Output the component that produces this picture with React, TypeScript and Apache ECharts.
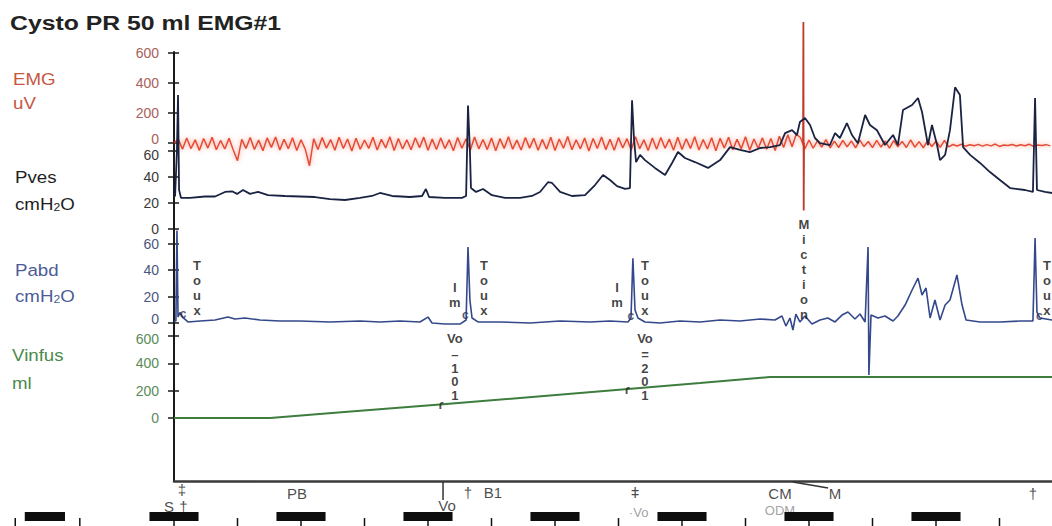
import React, { useEffect, useRef } from "react";
import * as echarts from "echarts";

// ---------- data (time in s, values in channel units) ----------
const TITLE = "Cysto PR 50 ml EMG#1";
const CHANNEL_NAMES = ["EMG", "Pves", "Pabd", "Vinfus"];
const CHANNEL_UNITS = ["uV", "cmH{s|2}O", "cmH{s|2}O", "ml"];

const EMG_TICKS = [0, 200, 400, 600];
const PVES_TICKS = [0, 20, 40, 60];
const PABD_TICKS = [0, 20, 40, 60];
const VINFUS_TICKS = [0, 200, 400, 600];

const EMG_STEP_S = 2;
const EMG_VALUES = [
  0, 26, -41, 33, -37, 21, -49, 30, -34, 38,
  -45, 17, -40, 31, -47, -118, 24, -36, 37, -43,
  19, -51, 34, -29, 40, -46, 25, -38, 35, -50,
  22, -41, -152, 29, -44, 36, -34, 23, -48, 39,
  -37, 27, -53, 32, -42, 20, -36, 38, -47, 25,
  -33, 41, -50, 30, -40, 22, -45, 35, -32, 39,
  -49, 26, -43, 34, -37, 21, -51, 37, -35, 28,
  -46, 40, -39, 23, -44, 33, -52, 29, -36, 42,
  -41, 19, -47, 36, -34, 31, -48, 24, -42, 38,
  -50, 27, -35, 43, -45, 22, -39, 34, -53, 30,
  -37, 40, -44, 25, -48, 36, -33, 29, -46, 41,
  -38, 21, -50, 33, -41, 37, -35, 26, -49, 39,
  -43, 28, -36, 42, -47, 23, -40, 35, -52, 31,
  -34, 38, -45, 24, -39, 41, -48, 27, -37, 34,
  -42, 30, -50, 45, -30, 55, -25, 60, 35, -40,
  20, -35, 15, -28, 22, -32, 12, -30, 18, -26,
  14, -33, 19, -24, 10, -31, 17, -27, 13, -34,
  16, -25, 11, -30, 20, -28, 9, -32, 15, -23,
  12, -29, 18, -26, -10, -20, -8, -22, -12, -18,
  -9, -21, -11, -19, -7, -23, -13, -17, -10, -20,
  -12, -18, -8, -22, -14, -16, -11, -19,
];
const EMG_BURST = [[297.2, 0], [297.35, 807], [297.5, -450], [297.65, 0]];

const PVES = [
  [0.5, 25], [1.4, 61], [1.9, 103], [2.4, 30], [3.3, 24], [7.6, 24], [14.6, 25], [19.4, 25],
  [24.1, 28.5], [27.4, 29], [29.8, 27], [32.6, 30], [35.9, 27], [39.7, 28.5], [44.4, 26],
  [52.4, 25.4], [59.5, 25], [66.6, 24.6], [73.7, 23], [80.8, 22.3], [87.9, 24], [93.5, 25.4],
  [97.3, 27.7], [103, 25.4], [111.5, 24.6], [117.2, 25.4], [119, 30.8], [120.5, 24.6], [128, 24],
  [136, 24], [138, 25.4], [138.9, 95], [139.8, 60], [140.3, 31.5], [142.7, 28.5], [146, 30.8],
  [150.2, 26], [156.4, 24], [163.5, 24], [169.1, 25.4], [172.9, 28.5], [176.7, 36], [178.6, 35.4],
  [182.4, 28.5], [188, 25.4], [194.2, 26], [198.9, 33.8], [202.7, 41.5], [206, 37.7], [209.3, 33],
  [213.1, 30.8], [215.4, 31.5], [216.4, 99], [217.3, 70], [218.3, 51.5], [220.2, 57], [222.5, 53],
  [227.2, 47], [232, 41.5], [235.3, 50.8], [238.1, 59.2], [241.4, 54.6], [246.1, 51.5], [252.3, 47],
  [258, 53], [262.7, 63], [267.4, 60.8], [272.1, 59.2], [276.9, 62.3], [281.6, 63], [286.3, 64.6],
  [288.7, 73.8], [292, 76], [294.3, 72.3], [295.7, 82.3], [298.1, 85.4], [300.5, 80], [302.8, 70],
  [305.2, 66], [309.9, 64.6], [312.3, 73.8], [314.6, 70], [317.9, 81.5], [320.3, 72.3], [323.1, 66],
  [326.5, 87.7], [328.8, 80], [332.1, 76], [335.9, 64.6], [339.7, 72.3], [342, 64.6], [344.4, 91.5],
  [348.7, 95.4], [351.5, 100.8], [353.4, 90], [356.2, 64.6], [358.1, 80], [360.5, 64.6], [361.9, 53],
  [364.3, 57], [366.6, 76], [369, 109], [371.3, 103], [372.8, 63], [376.1, 57], [380.8, 50.8],
  [385.5, 43.8], [390.2, 37.7], [395, 31.5], [402, 30], [405.8, 28.5], [406.8, 100.8], [407.7, 30],
  [411.5, 28.5], [414.8, 27.7],
];

const PABD = [
  [0, 1.5], [0.9, 1.5], [1.4, 70], [1.9, 4.5], [2.8, 8], [4.3, 4], [6.6, 0.8], [12.3, 1.5],
  [19.4, 2.3], [25.5, 4.5], [28.8, 3], [33.5, 3.8], [40.6, 2.3], [50.1, 1.5], [59.5, 1.5],
  [73.7, 0.8], [87.9, 1.5], [97.3, 0.8], [106.8, 1.5], [116.2, 0.8], [120, 4.5], [121.9, 0],
  [128, -0.8], [135.1, -0.8], [138, 2.3], [138.9, 57.6], [139.8, 17.4], [140.8, 3.8], [143.6, 0.8],
  [154, 0.8], [168.2, 0], [182.4, 1.5], [196.5, 0.8], [206, 1.5], [214.5, 0.8], [215.9, 3.8],
  [216.8, 49], [217.8, 9.8], [219.2, 3.8], [222.5, 0.8], [229.6, 0], [239, 1.5], [248.5, 0.8],
  [258, 2.3], [267.4, 1.5], [276.9, 3], [283.9, 2.3], [287.2, 5.3], [289.1, -2.3], [291, 3.8],
  [292.4, -5.3], [293.8, 6.8], [295.7, 0.8], [298.1, 5.3], [301.4, -0.8], [305.2, 2.3], [308.9, 3.8],
  [312.3, 0.8], [315.6, 6], [318.4, 8.3], [321.7, 3], [324.1, 6.8], [326.5, 0.8], [327.9, 57.6],
  [328.3, -39.4], [329.3, 6], [332.6, 3.8], [335.9, 5.3], [339.7, 1.5], [342, 5.3], [345.4, 13.6],
  [348.7, 25], [351.5, 34], [353.4, 21.2], [355.3, 26.5], [357.2, 3.8], [359.5, 17.4], [361.9, 2.3],
  [364.3, 13.6], [366.6, 17.4], [369.9, 36.4], [372.3, 13.6], [374.2, 2.3], [380.8, 0.8],
  [390.2, 0.8], [399.7, 1.5], [405.8, 1.5], [406.8, 64.4], [407.7, 8.3], [409.1, 3.8], [414.8, 2.3],
];

const VINFUS = [
  [0, 0], [45.4, 0], [82, 46], [127.1, 100], [214.5, 212], [248.5, 256], [281.6, 300], [414.8, 300],
];

// event notes: [time, value, text]
const PABD_NOTES = [
  [10.9, 26.5, "T\no\nu\nx"],
  [132.7, 21.2, "I\nm"],
  [146.4, 26.5, "T\no\nu\nx"],
  [209.3, 21.2, "I\nm"],
  [222.5, 26.5, "T\no\nu\nx"],
  [297.6, 40.2, "M\ni\nc\nt\ni\no\nn"],
  [412.4, 26.5, "T\no\nu\nx"],
];
const PABD_CURLS = [[4.3, 7, "c"], [137.6, 6, "c"], [215.8, 5, "c"], [408.8, 5, "c"]];
const VINFUS_NOTES = [
  [132.7, 585, "Vo"],
  [132.7, 314.6, "–\n1\n0\n1"],
  [222.5, 585, "Vo"],
  [222.5, 314.6, "=\n2\n0\n1"],
];
const VINFUS_CURLS = [[126.2, 98, "ɾ"], [214.2, 212, "ɾ"]];

// timeline strip (time, lane offset below trace box)
const TIME_BARS = [
  [-70.5, -51.5], [-11.6, 11.6], [48.4, 71.6], [108.4, 131.6], [168.4, 191.6],
  [228.4, 251.6], [288.4, 311.6], [348.4, 371.6],
];
const TIME_TICKS = [-75, -44.5, 0, 30, 60, 90, 120, 150, 180, 210, 240, 270, 300, 330, 360, 390];
const EVENT_NOTES = [
  [3.8, 7, "‡", "dark"],
  [-2.4, 24, "S", "dark"],
  [4.4, 24, "†", "dark"],
  [58.1, 11, "PB", "dark"],
  [129, 23, "Vo", "dark"],
  [138.9, 10, "†", "dark"],
  [150.7, 10, "B1", "dark"],
  [217.8, 10, "ǂ", "dark"],
  [219.5, 30, "·Vo", "faint"],
  [286.3, 11, "CM", "dark"],
  [286.3, 28, "ODM", "faint"],
  [312.3, 11, "M", "dark"],
  [405.8, 11, "†", "dark"],
];
const EVENT_SEGMENTS = [[127.1, 0, 127.1, 18], [292.4, 0, 309, 6]];

// ---------- layout ----------
const W = 1052;
const H = 526;
const GRID_LEFT = 174;
const GRID_TOP = 52;
const GRID_BOTTOM_PX = 481;
const PX_PER_S = 127 / 60;
const T_MAX = (W - GRID_LEFT) / PX_PER_S;
const T_MIN_LANE = -GRID_LEFT / PX_PER_S;
const LANE_TOP = 482;
const LANE_H = H - LANE_TOP;

const SCALES = [
  { zero: 143, ppu: 0.15 },
  { zero: 229, ppu: 1.3 },
  { zero: 323, ppu: 1.32 },
  { zero: 418, ppu: 0.1367 },
];
const TICKS = [EMG_TICKS, PVES_TICKS, PABD_TICKS, VINFUS_TICKS];
// tick labels that are nudged up / down where two channel scales meet
const NUDGE_UP = [[0], [], [0], []];
const NUDGE_DOWN = [[], [60], [], [600]];
const TICK_COLORS = ["#a8605a", "#3a3a3a", "#4b5680", "#5a8a5a"];
const LABEL_COLORS = ["#c8553f", "#1e1e1e", "#4d5c96", "#4a8a4a"];
const LABEL_POS = [
  [13, 79, 13, 103],
  [15, 177, 15, 204],
  [15, 270, 15, 296],
  [12, 355, 12, 383],
];
const FONT = "Liberation Sans";

function rangeOf(s: { zero: number; ppu: number }) {
  return { min: -(GRID_BOTTOM_PX - s.zero) / s.ppu, max: (s.zero - GRID_TOP) / s.ppu };
}

function buildOption() {
  const yAxes: any[] = [];
  SCALES.forEach((s, i) => {
    const r = rangeOf(s);
    const base = { color: TICK_COLORS[i], fontFamily: FONT, fontSize: 14 };
    yAxes.push({
      type: "value",
      gridIndex: 0,
      position: "left",
      min: r.min,
      max: r.max,
      axisLine: { show: i === 0, onZero: false, lineStyle: { color: "#1a1a1a", width: 2 } },
      axisTick: { show: true, inside: false, length: 6, customValues: TICKS[i], lineStyle: { color: "#1a1a1a", width: 1.5 } },
      axisLabel: {
        show: true,
        customValues: TICKS[i],
        margin: 15,
        ...base,
        formatter: (v: number) => {
          if (NUDGE_UP[i].indexOf(v) >= 0) return `{up|${v}}`;
          if (NUDGE_DOWN[i].indexOf(v) >= 0) return `{dn|${v}}`;
          return String(v);
        },
        rich: {
          up: { ...base, padding: [0, 0, 8, 0] },
          dn: { ...base, padding: [7, 0, 0, 0] },
        },
      },
      splitLine: { show: false },
    });
  });
  SCALES.forEach((s, i) => {
    const r = rangeOf(s);
    yAxes.push({
      type: "value",
      gridIndex: 0,
      position: "left",
      min: r.min,
      max: r.max,
      axisLine: { show: false, onZero: false },
      axisTick: { show: true, inside: true, length: 5, customValues: TICKS[i], lineStyle: { color: "#1a1a1a", width: 1.5 } },
      axisLabel: { show: false },
      splitLine: { show: false },
    });
  });
  yAxes.push({ type: "value", gridIndex: 1, min: 0, max: LANE_H, inverse: true, show: false });

  const noteLabel = {
    show: true,
    position: "inside",
    formatter: "{b}",
    fontFamily: FONT,
    fontWeight: "bold",
    fontSize: 13,
    lineHeight: 15,
    color: "#111111",
    textBorderWidth: 0,
    textBorderColor: "transparent",
    align: "center",
    verticalAlign: "middle",
  };
  const toItems = (arr: any[]) => arr.map((n) => ({ name: n[2], value: [n[0], n[1]] }));

  const series: any[] = [
    {
      type: "line",
      name: "EMG",
      xAxisIndex: 0,
      yAxisIndex: 0,
      data: EMG_VALUES.map((v, i) => [i * EMG_STEP_S, v]),
      symbol: "none",
      clip: false,
      lineStyle: { color: "#e33a22", width: 1.5, opacity: 0.9, shadowBlur: 5, shadowColor: "rgba(240,100,70,0.7)" },
      z: 2,
    },
    {
      type: "line",
      name: "EMG burst",
      xAxisIndex: 0,
      yAxisIndex: 0,
      data: EMG_BURST,
      symbol: "none",
      clip: false,
      lineStyle: { color: "#c0392b", width: 1.8 },
      z: 3,
    },
    {
      type: "line",
      name: "Pves",
      xAxisIndex: 0,
      yAxisIndex: 1,
      data: PVES,
      symbol: "none",
      clip: false,
      lineStyle: { color: "#1b2342", width: 1.8 },
      z: 4,
    },
    {
      type: "line",
      name: "Pabd",
      xAxisIndex: 0,
      yAxisIndex: 2,
      data: PABD,
      symbol: "none",
      clip: false,
      lineStyle: { color: "#34488c", width: 1.6 },
      z: 4,
    },
    {
      type: "line",
      name: "Vinfus",
      xAxisIndex: 0,
      yAxisIndex: 3,
      data: VINFUS,
      symbol: "none",
      lineStyle: { color: "#3e7d3e", width: 2 },
      z: 4,
    },
    {
      type: "scatter",
      xAxisIndex: 0,
      yAxisIndex: 2,
      data: toItems(PABD_NOTES),
      symbolSize: 1,
      itemStyle: { color: "rgba(0,0,0,0)" },
      label: noteLabel,
      clip: false,
      z: 6,
    },
    {
      type: "scatter",
      xAxisIndex: 0,
      yAxisIndex: 2,
      data: toItems(PABD_CURLS),
      symbolSize: 1,
      itemStyle: { color: "rgba(0,0,0,0)" },
      label: { ...noteLabel, fontSize: 12, color: "#2a3050" },
      clip: false,
      z: 6,
    },
    {
      type: "scatter",
      xAxisIndex: 0,
      yAxisIndex: 3,
      data: toItems(VINFUS_NOTES),
      symbolSize: 1,
      itemStyle: { color: "rgba(0,0,0,0)" },
      label: { ...noteLabel, lineHeight: 13.5 },
      clip: false,
      z: 6,
    },
    {
      type: "scatter",
      xAxisIndex: 0,
      yAxisIndex: 3,
      data: toItems(VINFUS_CURLS),
      symbolSize: 1,
      itemStyle: { color: "rgba(0,0,0,0)" },
      label: { ...noteLabel, fontSize: 13, color: "#222" },
      clip: false,
      z: 6,
    },
    // timeline strip
    {
      type: "custom",
      xAxisIndex: 1,
      yAxisIndex: 8,
      data: TIME_BARS,
      renderItem: (params: any, api: any) => {
        const p0 = api.coord([api.value(0), 30]);
        const p1 = api.coord([api.value(1), 39]);
        return {
          type: "rect",
          shape: { x: p0[0], y: p0[1], width: p1[0] - p0[0], height: p1[1] - p0[1] },
          style: { fill: "#0d0d0d" },
        };
      },
      z: 5,
    },
    {
      type: "custom",
      xAxisIndex: 1,
      yAxisIndex: 8,
      data: TIME_TICKS.map((t) => [t]),
      renderItem: (params: any, api: any) => {
        const p0 = api.coord([api.value(0), 36]);
        const p1 = api.coord([api.value(0), 44]);
        return {
          type: "line",
          shape: { x1: p0[0], y1: p0[1], x2: p1[0], y2: p1[1] },
          style: { stroke: "#111", lineWidth: 1.5 },
        };
      },
      z: 4,
    },
    {
      type: "custom",
      xAxisIndex: 1,
      yAxisIndex: 8,
      data: EVENT_SEGMENTS,
      renderItem: (params: any, api: any) => {
        const p0 = api.coord([api.value(0), api.value(1)]);
        const p1 = api.coord([api.value(2), api.value(3)]);
        return {
          type: "line",
          shape: { x1: p0[0], y1: p0[1], x2: p1[0], y2: p1[1] },
          style: { stroke: "#333", lineWidth: 1.5 },
        };
      },
      z: 4,
    },
    {
      type: "scatter",
      xAxisIndex: 1,
      yAxisIndex: 8,
      data: EVENT_NOTES.map((n) => ({
        name: n[2],
        value: [n[0], n[1]],
        label: n[3] === "faint" ? { color: "#8a8a8a", fontSize: 13 } : undefined,
      })),
      symbolSize: 1,
      itemStyle: { color: "rgba(0,0,0,0)" },
      label: { ...noteLabel, fontWeight: "normal", fontSize: 15, lineHeight: 15, color: "#1a1a1a" },
      clip: false,
      z: 3,
    },
  ];

  const graphic: any[] = [
    {
      type: "text",
      x: 10,
      y: 23,
      scaleX: 1.18,
      style: {
        text: TITLE,
        fill: "#222",
        font: `bold 21px "${FONT}"`,
        textVerticalAlign: "middle",
        verticalAlign: "middle",
      },
    },
  ];
  CHANNEL_NAMES.forEach((name, i) => {
    const p = LABEL_POS[i];
    graphic.push({
      type: "text",
      x: p[0],
      y: p[1],
      scaleX: 1.1,
      style: { text: name, fill: LABEL_COLORS[i], font: `17px "${FONT}"`, textVerticalAlign: "middle", verticalAlign: "middle" },
    });
    graphic.push({
      type: "text",
      x: p[2],
      y: p[3],
      scaleX: 1.1,
      style: {
        text: CHANNEL_UNITS[i],
        fill: LABEL_COLORS[i],
        font: `17px "${FONT}"`,
        textVerticalAlign: "middle",
        verticalAlign: "middle",
        rich: { s: { fontSize: 11, fontFamily: FONT, fill: LABEL_COLORS[i], lineHeight: 10, verticalAlign: "bottom", padding: [8, 0, 0, 0] } },
      },
    });
  });

  return {
    animation: false,
    backgroundColor: "#ffffff",
    grid: [
      { left: GRID_LEFT, top: GRID_TOP, right: 0, height: GRID_BOTTOM_PX - GRID_TOP, containLabel: false },
      { left: 0, right: 0, top: LANE_TOP, height: LANE_H, containLabel: false },
    ],
    xAxis: [
      {
        type: "value",
        gridIndex: 0,
        min: 0,
        max: T_MAX,
        axisLine: { show: true, onZero: false, lineStyle: { color: "#3a3a3a", width: 2.5 } },
        axisTick: { show: false },
        axisLabel: { show: false },
        splitLine: { show: false },
      },
      { type: "value", gridIndex: 1, min: T_MIN_LANE, max: T_MAX, show: false },
    ],
    yAxis: yAxes,
    series,
    graphic,
  };
}

export default function App() {
  const ref = useRef<HTMLDivElement>(null);
  useEffect(() => {
    if (!ref.current) return;
    const chart = echarts.init(ref.current, undefined, { renderer: "svg" });
    chart.setOption(buildOption() as any);
    return () => chart.dispose();
  }, []);
  return (
    <div
      ref={ref}
      style={{ position: "fixed", left: 0, top: 0, width: W, height: H, background: "#fff" }}
    />
  );
}
